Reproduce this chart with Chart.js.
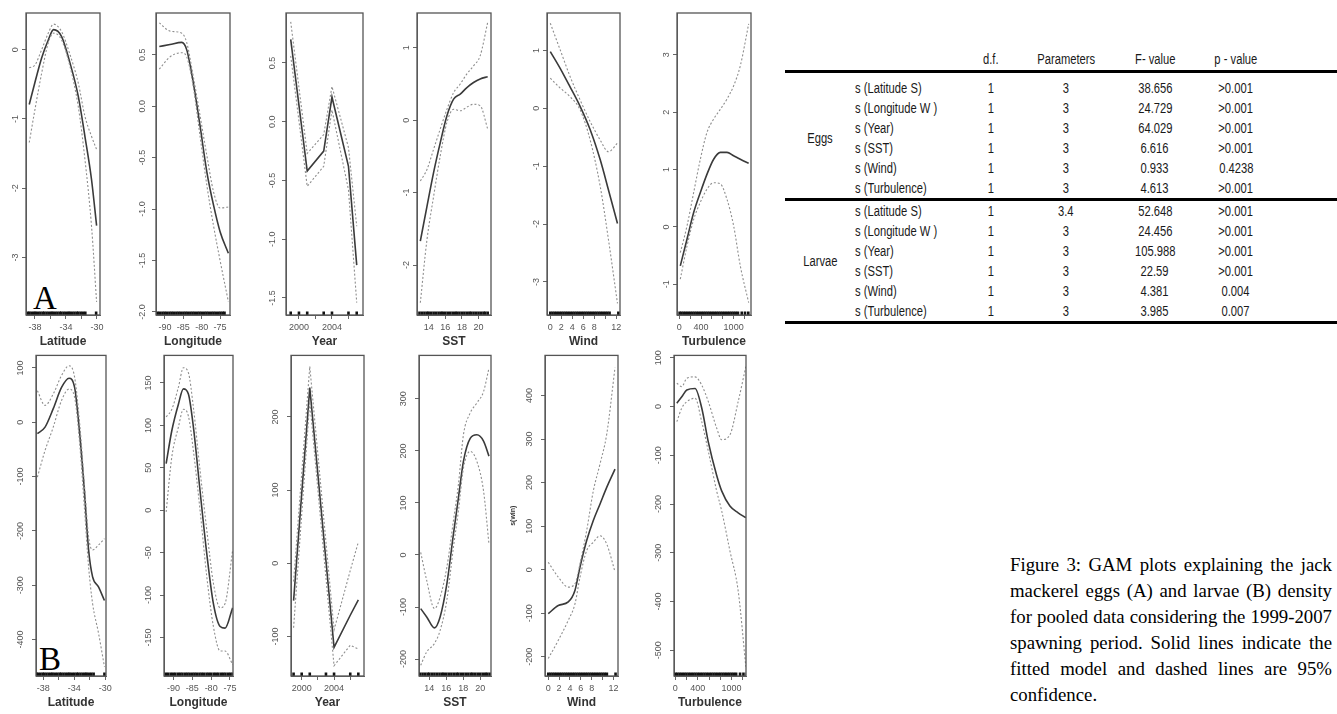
<!DOCTYPE html>
<html>
<head>
<meta charset="utf-8">
<script src="https://cdn.jsdelivr.net/npm/chart.js@4.4.1/dist/chart.umd.min.js"></script>
<style>
	html, body { margin: 0; padding: 0; background: #fff; }
	body { width: 1337px; height: 714px; position: relative; overflow: hidden; }
	canvas.gam { position: absolute; }
	.tag { position: absolute; font-family: "Liberation Serif", "Times New Roman", serif; font-size: 33px; line-height: 1; color: #000; }
	#tbl { position: absolute; left: 785px; top: 48px; width: 552px; border-collapse: collapse; table-layout: fixed;
		font-family: "Liberation Sans", Arial, sans-serif; font-size: 14px; color: #1a1a1a; }
	#tbl th, #tbl td { padding: 0; height: 20px; line-height: 20px; font-weight: normal; white-space: nowrap; text-align: center; }
	#tbl th { height: 22px; border-bottom: 3px solid #000; }
	#tbl td.term { text-align: left; }
	#tbl tr.first td { padding-top: 5px; }
	#tbl tr.end td, #tbl td.grp { border-bottom: 3px solid #000; }
	#tbl span { display: inline-block; transform: scaleX(0.8); transform-origin: center; }
	#tbl td.term span { transform-origin: left; }
	#cap { position: absolute; left: 1010px; top: 552px; width: 322px; font-family: "Liberation Serif", "Times New Roman", serif;
		font-size: 18.8px; line-height: 26px; color: #000; }
	#cap span { display: block; white-space: nowrap; text-align: justify; text-align-last: justify; }
	#cap span.last { text-align-last: left; }
</style>
</head>
<body>
<div class="tag" style="left:33px; top:282px;">A</div>
<div class="tag" style="left:39px; top:643px;">B</div>
<table id="tbl"></table>
<div id="cap">
	<span>Figure 3: GAM plots explaining the jack</span>
	<span>mackerel eggs (A) and larvae (B) density</span>
	<span>for pooled data considering the 1999-2007</span>
	<span>spawning period. Solid lines indicate the</span>
	<span>fitted model and dashed lines are 95%</span>
	<span class="last">confidence.</span>
</div>
<script>
// ---- eggs (row A) : fitted smooth, upper / lower 95% band ----
const latX_A = [-38.74, -38.0, -37.14, -36.28, -35.6, -34.56, -33.48, -32.41, -31.55, -30.7, -30.04];
const latFit_A = [-0.79, -0.47, -0.12, 0.14, 0.29, 0.19, -0.19, -0.67, -1.25, -1.87, -2.54];
const latUp_A = [-0.26, -0.22, 0.0, 0.24, 0.37, 0.26, -0.07, -0.48, -0.96, -1.25, -1.44];
const latLo_A = [-1.34, -0.86, -0.34, 0.10, 0.24, 0.14, -0.24, -0.82, -1.58, -2.54, -3.64];

const lonX_A = [-91.55, -88.64, -85.45, -84.1, -82.3, -80.46, -78.6, -76.8, -75.0, -72.75];
const lonFit_A = [0.58, 0.60, 0.62, 0.55, 0.23, -0.19, -0.64, -0.96, -1.22, -1.43];
const lonUp_A = [0.81, 0.73, 0.71, 0.62, 0.29, -0.09, -0.48, -0.83, -0.99, -0.98];
const lonLo_A = [0.36, 0.48, 0.52, 0.48, 0.19, -0.29, -0.77, -1.16, -1.50, -1.90];

const yearX_A = [1999, 2001, 2003, 2004, 2006, 2007];
const yearFit_A = [0.70, -0.42, -0.25, 0.21, -0.38, -1.22];
const yearUp_A = [0.85, -0.27, -0.11, 0.30, -0.22, -0.89];
const yearLo_A = [0.56, -0.55, -0.38, 0.10, -0.58, -1.54];

const sstX_A = [13.0, 13.8, 14.6, 15.4, 16.2, 17.0, 17.8, 18.6, 19.4, 20.2, 21.1];
const sstFit_A = [-1.67, -1.19, -0.72, -0.31, 0.06, 0.29, 0.36, 0.45, 0.52, 0.57, 0.60];
const sstUp_A = [-0.84, -0.68, -0.40, -0.12, 0.15, 0.38, 0.50, 0.64, 0.75, 0.89, 1.35];
const sstLo_A = [-2.52, -1.65, -1.05, -0.49, -0.03, 0.15, 0.13, 0.18, 0.22, 0.20, -0.12];

const windX_A = [0, 1.8, 3.6, 5.45, 7.27, 9.1, 10.6, 12.24];
const windFit_A = [0.98, 0.69, 0.37, 0.03, -0.37, -0.89, -1.41, -1.99];
const windUp_A = [1.47, 1.01, 0.55, 0.14, -0.23, -0.55, -0.75, -0.60];
const windLo_A = [0.52, 0.35, 0.20, -0.03, -0.55, -1.35, -2.27, -3.37];

const turbX_A = [18, 142, 264, 387, 510, 632, 755, 878, 1000, 1123, 1277];
const turbFit_A = [-0.68, -0.21, 0.25, 0.60, 0.92, 1.18, 1.30, 1.30, 1.24, 1.18, 1.11];
const turbUp_A = [-0.45, 0.02, 0.60, 1.18, 1.65, 1.88, 2.05, 2.23, 2.46, 2.81, 3.54];
const turbLo_A = [-0.91, -0.33, 0.13, 0.43, 0.66, 0.77, 0.75, 0.48, 0.02, -0.68, -1.32];

// ---- larvae (row B) ----
const latX_B = [-38.77, -37.78, -36.72, -35.65, -34.68, -33.96, -33.3, -32.7, -32.15, -31.64, -30.87, -30.1];
const latFit_B = [-21, -9, 25, 64, 81, 64, -21, -125, -235, -284, -303, -328];
const latUp_B = [58, 31, 52, 86, 104, 83, -3, -113, -211, -235, -226, -214];
const latLo_B = [-101, -52, -9, 40, 61, 46, -40, -156, -266, -333, -388, -450];

const lonX_B = [-91.93, -90.42, -88.68, -87.35, -86.03, -84.7, -82.94, -81.16, -79.4, -77.6, -76.3, -74.3];
const lonFit_B = [55, 94, 125, 143, 137, 98, 23, -51, -110, -137, -139, -115];
const lonUp_B = [110, 119, 145, 168, 162, 121, 47, -23, -86, -115, -110, -47];
const lonLo_B = [-2, 63, 98, 119, 111, 70, 0, -78, -137, -166, -166, -182];

const yearX_B = [1999, 2001, 2004, 2006, 2007];
const yearFit_B = [-51, 240, -115, -71, -50];
const yearUp_B = [-25, 269, -91, -10, 29];
const yearLo_B = [-88, 221, -140, -112, -117];

const sstX_B = [12.98, 13.69, 14.6, 15.27, 16.06, 16.84, 17.43, 18.02, 18.82, 19.6, 20.39, 21.03];
const sstFit_B = [-103, -119, -140, -119, -56, 40, 110, 180, 224, 231, 219, 190];
const sstUp_B = [5, -49, -103, -81, -24, 66, 136, 231, 273, 292, 314, 359];
const sstLo_B = [-212, -186, -170, -145, -87, 15, 85, 167, 199, 180, 123, 21];

const windX_B = [0, 1.85, 3.69, 4.93, 5.85, 7.08, 8.3, 9.54, 10.77, 12.3];
const windFit_B = [-101, -82, -74, -47, 6, 67, 113, 151, 189, 231];
const windUp_B = [17, -17, -40, -32, 14, 90, 181, 243, 311, 464];
const windLo_B = [-204, -162, -116, -78, -17, 44, 63, 78, 59, -5];

const turbX_B = [30, 118, 206, 353, 471, 588, 735, 824, 970, 1116, 1252];
const turbFit_B = [7, 20, 34, 37, -3, -73, -141, -173, -204, -218, -228];
const turbUp_B = [48, 41, 58, 61, 44, 10, -44, -68, -58, 10, 82];
const turbLo_B = [-31, -3, 10, 17, -31, -92, -173, -214, -296, -378, -534];

// rug (observations along the x axis)
const latRug = [-38.9, -38.7, -38.4, -38.1, -37.9, -37.6, -37.3, -37.0, -36.8, -36.5, -36.2, -35.9, -35.7, -35.4, -35.1, -34.8, -34.6, -34.3, -34.0, -33.7, -33.5, -33.2, -32.9, -32.6, -32.4, -32.1, -31.8, -31.5, -30.1];
const lonRug = [-92.0, -91.4, -90.7, -90.1, -89.5, -88.8, -88.2, -87.6, -86.9, -86.3, -85.7, -85.0, -84.4, -83.8, -83.1, -82.5, -81.9, -81.2, -80.6, -80.0, -79.3, -78.7, -78.1, -77.4, -76.8, -76.2, -75.5, -74.9, -74.3, -73.8];
const yearRug = [1999, 2000, 2001, 2003, 2004, 2006, 2007];
const sstRug = [12.9, 13.2, 13.5, 13.8, 14.0, 14.3, 14.6, 14.9, 15.2, 15.5, 15.7, 16.0, 16.3, 16.6, 16.9, 17.2, 17.4, 17.7, 18.0, 18.3, 18.6, 18.9, 19.1, 19.4, 19.7, 20.0, 20.3, 20.6, 20.8, 21.1];
const windRug = [0.0, 0.4, 0.8, 1.2, 1.6, 2.0, 2.4, 2.8, 3.2, 3.6, 4.0, 4.4, 4.8, 5.2, 5.6, 6.0, 6.4, 6.8, 7.2, 7.6, 8.0, 8.4, 8.8, 9.2, 9.6, 10.0, 10.4, 10.8, 12.4];
const turbRug = [5, 40, 80, 120, 160, 200, 240, 280, 320, 360, 400, 440, 480, 520, 560, 600, 640, 680, 720, 760, 800, 840, 880, 920, 960, 1000, 1040, 1080, 1150, 1210, 1270];

// x tick marks and which of them carry a label
const latTicks = [-38, -36, -34, -32, -30], latLabels = [-38, -34, -30];
const lonTicks = [-90, -85, -80, -75], lonLabels = [-90, -85, -80, -75];
const yearTicks = [2000, 2002, 2004, 2006], yearLabels = [2000, 2004];
const sstTicks = [14, 16, 18, 20], sstLabels = [14, 16, 18, 20];
const windTicks = [0, 2, 4, 6, 8, 10, 12], windLabels = [0, 2, 4, 6, 8, 12];
const turbTicks = [0, 200, 400, 600, 800, 1000, 1200], turbLabels = [0, 400, 1000];

// y ticks per panel
const yTicks_A1 = [-3, -2, -1, 0];
const yTicks_A2 = [-2, -1.5, -1, -0.5, 0, 0.5];
const yTicks_A3 = [-1.5, -1, -0.5, 0, 0.5];
const yTicks_A4 = [-2, -1, 0, 1];
const yTicks_A5 = [-3, -2, -1, 0, 1];
const yTicks_A6 = [-1, 0, 1, 2, 3];
const yTicks_B1 = [-400, -300, -200, -100, 0, 100];
const yTicks_B2 = [-150, -100, -50, 0, 50, 100, 150];
const yTicks_B3 = [-100, 0, 100, 200];
const yTicks_B4 = [-200, -100, 0, 100, 200, 300];
const yTicks_B5 = [-200, -100, 0, 100, 200, 300, 400];
const yTicks_B6 = [-500, -400, -300, -200, -100, 0, 100];

// table
const terms = ["s (Latitude S)", "s (Longitude W )", "s (Year)", "s (SST)", "s (Wind)", "s (Turbulence)"];
const colHeads = ["", "", "d.f.", "Parameters", "F- value", "p - value", ""];
const eggsDf = ["1", "1", "1", "1", "1", "1"];
const eggsPar = ["3", "3", "3", "3", "3", "3"];
const eggsF = ["38.656", "24.729", "64.029", "6.616", "0.933", "4.613"];
const eggsP = [">0.001", ">0.001", ">0.001", ">0.001", "0.4238", ">0.001"];
const larvaeDf = ["1", "1", "1", "1", "1", "1"];
const larvaePar = ["3.4", "3", "3", "3", "3", "3"];
const larvaeF = ["52.648", "24.456", "105.988", "22.59", "4.381", "3.985"];
const larvaeP = [">0.001", ">0.001", ">0.001", ">0.001", "0.004", "0.007"];

// year is a piecewise-linear term, the others are smooth curves
const vars = {
	lat: { name: "Latitude", ticks: latTicks, labels: latLabels, rug: latRug, smooth: true },
	lon: { name: "Longitude", ticks: lonTicks, labels: lonLabels, rug: lonRug, smooth: true },
	year: { name: "Year", ticks: yearTicks, labels: yearLabels, rug: yearRug, smooth: false },
	sst: { name: "SST", ticks: sstTicks, labels: sstLabels, rug: sstRug, smooth: true },
	wind: { name: "Wind", ticks: windTicks, labels: windLabels, rug: windRug, smooth: true },
	turb: { name: "Turbulence", ticks: turbTicks, labels: turbLabels, rug: turbRug, smooth: true }
};

// row geometry (page px)
const rowA = { top: 0, h: 348, tpad: 0, lh: 1.0 };
const rowB = { top: 348, h: 366, tpad: 4, lh: 1.2 };

const panels = [
	{ row: rowA, box: [26, 100, 13, 315], yw: 26, v: vars.lat, xr: [-39.16, -29.6], yr: [-3.83, 0.53], yt: yTicks_A1, dec: 0, x: latX_A, fit: latFit_A, up: latUp_A, lo: latLo_A },
	{ row: rowA, box: [156, 230, 13, 315], yw: 30, v: vars.lon, xr: [-92.45, -72.3], yr: [-2.03, 0.906], yt: yTicks_A2, dec: 1, x: lonX_A, fit: lonFit_A, up: lonUp_A, lo: lonLo_A },
	{ row: rowA, box: [286, 363, 13, 315], yw: 30, v: vars.year, xr: [1998.43, 2007.76], yr: [-1.645, 0.925], yt: yTicks_A3, dec: 1, x: yearX_A, fit: yearFit_A, up: yearUp_A, lo: yearLo_A },
	{ row: rowA, box: [417, 491, 13, 315], yw: 26, v: vars.sst, xr: [12.6, 21.5], yr: [-2.69, 1.48], yt: yTicks_A4, dec: 0, x: sstX_A, fit: sstFit_A, up: sstUp_A, lo: sstLo_A },
	{ row: rowA, box: [547, 620, 13, 315], yw: 26, v: vars.wind, xr: [-0.6, 12.7], yr: [-3.57, 1.646], yt: yTicks_A5, dec: 0, x: windX_A, fit: windFit_A, up: windUp_A, lo: windLo_A },
	{ row: rowA, box: [677, 751, 13, 315], yw: 26, v: vars.turb, xr: [-43, 1320], yr: [-1.536, 3.73], yt: yTicks_A6, dec: 0, x: turbX_A, fit: turbFit_A, up: turbUp_A, lo: turbLo_A },
	{ row: rowB, box: [36, 106, 354, 676], yw: 30, v: vars.lat, xr: [-38.95, -29.9], yr: [-467, 123], yt: yTicks_B1, dec: 0, x: latX_B, fit: latFit_B, up: latUp_B, lo: latLo_B },
	{ row: rowB, box: [164, 233, 354, 676], yw: 30, v: vars.lon, xr: [-92.5, -74.2], yr: [-195.4, 182.5], yt: yTicks_B2, dec: 0, x: lonX_B, fit: lonFit_B, up: lonUp_B, lo: lonLo_B },
	{ row: rowB, box: [291, 364, 354, 676], yw: 30, v: vars.year, xr: [1998.68, 2007.7], yr: [-154, 284], yt: yTicks_B3, dec: 0, x: yearX_B, fit: yearFit_B, up: yearUp_B, lo: yearLo_B },
	{ row: rowB, box: [419, 491, 354, 676], yw: 30, v: vars.sst, xr: [12.78, 21.27], yr: [-232.5, 383.5], yt: yTicks_B4, dec: 0, x: sstX_B, fit: sstFit_B, up: sstUp_B, lo: sstLo_B },
	{ row: rowB, box: [545, 618, 354, 676], yw: 36, v: vars.wind, xr: [-0.6, 12.85], yr: [-244, 492], yt: yTicks_B5, dec: 0, x: windX_B, fit: windFit_B, up: windUp_B, lo: windLo_B, ytitle: "s(win)" },
	{ row: rowB, box: [674, 746, 354, 676], yw: 30, v: vars.turb, xr: [-20, 1255], yr: [-553, 105], yt: yTicks_B6, dec: 0, x: turbX_B, fit: turbFit_B, up: turbUp_B, lo: turbLo_B }
];

const axisGrey = "#666";
const tickFont = { family: "Liberation Sans", size: 9 };

// R style closed box around the plot region
const boxLines = {
	id: "boxLines",
	afterDraw(chart) {
		const a = chart.chartArea;
		const ctx = chart.ctx;
		ctx.save();
		ctx.strokeStyle = "#555";
		ctx.lineWidth = 1.3;
		ctx.strokeRect(a.left, a.top, a.right - a.left, a.bottom - a.top);
		ctx.restore();
	}
};

function drawPanel(p) {
	const padR = 14;
	const w = p.yw + (p.box[1] - p.box[0]) + padR;
	const h = p.row.h;
	const cv = document.createElement("canvas");
	cv.className = "gam";
	cv.width = w;
	cv.height = h;
	cv.style.left = (p.box[0] - p.yw) + "px";
	cv.style.top = p.row.top + "px";
	document.body.appendChild(cv);

	const pts = (ys) => p.x.map((x, i) => ({ x: x, y: ys[i] }));
	const curve = p.v.smooth ? { tension: 0.4, cubicInterpolationMode: "monotone" } : { tension: 0, cubicInterpolationMode: "default" };
	const band = (ys) => Object.assign({
		data: pts(ys), borderColor: "#8e8e8e", borderWidth: 1.1, borderDash: [2, 2], pointRadius: 0
	}, curve);

	new Chart(cv, {
		type: "line",
		data: {
			datasets: [
				band(p.up),
				band(p.lo),
				Object.assign({ data: pts(p.fit), borderColor: "#3a3a3a", borderWidth: 1.6, pointRadius: 0 }, curve),
				{
					data: p.v.rug.map((r) => ({ x: r, y: p.yr[0] })), showLine: false,
					pointStyle: "line", pointRotation: 90, pointRadius: 3.5, pointBorderWidth: 2.6, pointBorderColor: "#111"
				}
			]
		},
		options: {
			responsive: false,
			animation: false,
			events: [],
			layout: { padding: { top: p.box[2] - p.row.top, right: padR, left: 0, bottom: 0 } },
			plugins: { legend: { display: false }, tooltip: { enabled: false } },
			scales: {
				x: {
					type: "linear",
					min: p.xr[0],
					max: p.xr[1],
					afterBuildTicks: (s) => { s.ticks = p.v.ticks.map((t) => ({ value: t })); },
					afterFit: (s) => { s.height = h - (p.box[3] - p.row.top); },
					ticks: {
						autoSkip: false, maxRotation: 0, minRotation: 0, padding: 3, color: "#555", font: tickFont,
						callback: (val) => (p.v.labels.includes(val) ? String(val) : "")
					},
					grid: { drawOnChartArea: false, drawTicks: true, tickLength: 4, color: axisGrey },
					border: { display: true, color: axisGrey },
					title: {
						display: true, text: p.v.name, color: "#333",
						font: { family: "Liberation Sans", size: 12, weight: "bold", lineHeight: p.row.lh },
						padding: { top: 0, bottom: p.row.tpad }
					}
				},
				y: {
					type: "linear",
					min: p.yr[0],
					max: p.yr[1],
					afterBuildTicks: (s) => { s.ticks = p.yt.map((t) => ({ value: t })); },
					afterFit: (s) => { s.width = p.yw; },
					ticks: {
						autoSkip: false, minRotation: 90, maxRotation: 90, crossAlign: "center", padding: 2,
						color: "#555", font: tickFont,
						callback: (val) => val.toFixed(p.dec)
					},
					grid: { drawOnChartArea: false, drawTicks: true, tickLength: 4, color: axisGrey },
					border: { display: true, color: axisGrey },
					title: {
						display: !!p.ytitle, text: p.ytitle || "", color: "#333",
						font: { family: "Liberation Sans", size: 7, weight: "bold" }, padding: 0
					}
				}
			}
		},
		plugins: [boxLines]
	});
}

panels.forEach(drawPanel);

// ---- statistics table ----
const tbl = document.getElementById("tbl");
const widths = [70, 105, 62, 88, 90, 72, 65];
const cell = (txt) => (txt ? "<span>" + txt + "</span>" : "");
let html = "<colgroup>" + widths.map((w) => '<col style="width:' + w + 'px">').join("") + "</colgroup>";
html += "<tr>" + colHeads.map((c) => "<th>" + cell(c) + "</th>").join("") + "</tr>";

function groupRows(name, df, par, f, pv, gap) {
	let out = "";
	terms.forEach((t, i) => {
		let cls = [];
		if (i === 0 && gap) cls.push("first");
		if (i === terms.length - 1) cls.push("end");
		out += '<tr class="' + cls.join(" ") + '">';
		if (i === 0) out += '<td class="grp" rowspan="' + terms.length + '">' + cell(name) + "</td>";
		out += '<td class="term">' + cell(t) + "</td><td>" + cell(df[i]) + "</td><td>" + cell(par[i]) + "</td><td>" +
			cell(f[i]) + "</td><td>" + cell(pv[i]) + "</td><td></td></tr>";
	});
	return out;
}
html += groupRows("Eggs", eggsDf, eggsPar, eggsF, eggsP, true);
html += groupRows("Larvae", larvaeDf, larvaePar, larvaeF, larvaeP, false);
tbl.innerHTML = html;
</script>
</body>
</html>
